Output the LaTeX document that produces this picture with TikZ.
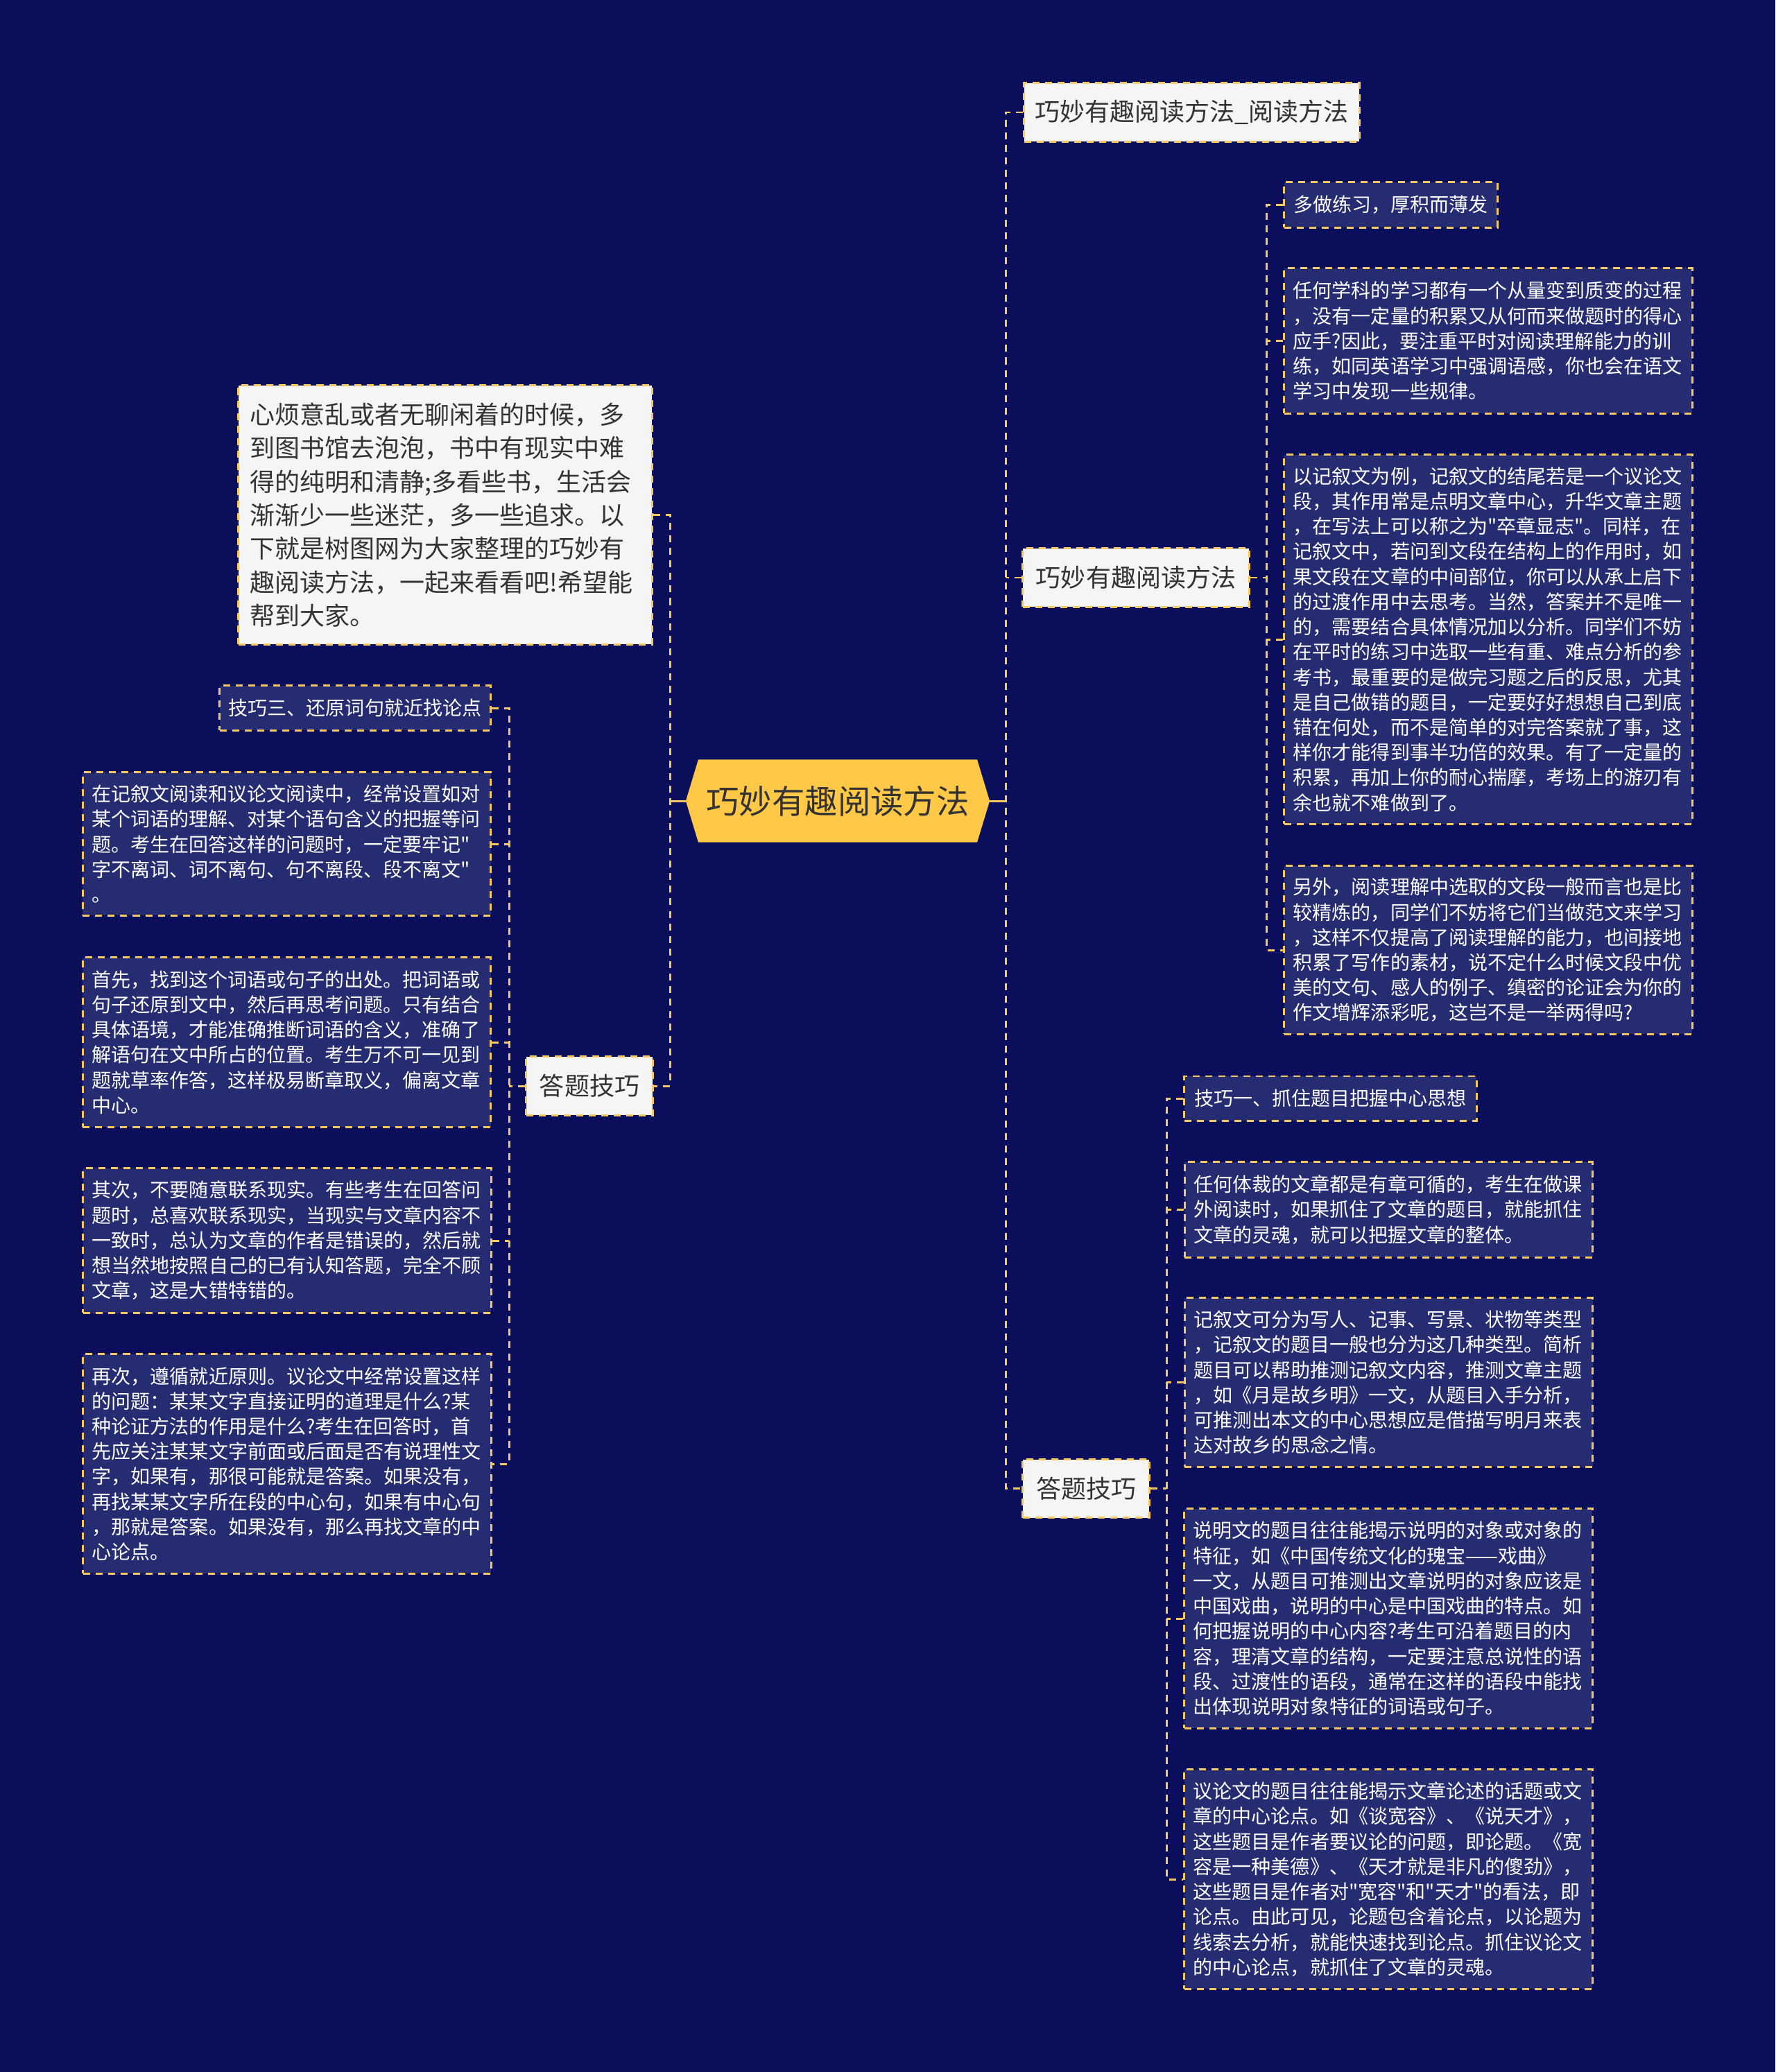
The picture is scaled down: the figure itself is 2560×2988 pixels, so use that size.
\documentclass[tikz,border=0pt]{standalone}
\usepackage{fontspec}
\setmainfont{Noto Sans CJK SC}[Ligatures=TeXOff]
\usetikzlibrary{backgrounds}
\definecolor{bgnavy}{HTML}{0A0E5B}
\definecolor{leafblue}{HTML}{262C72}
\definecolor{edgegold}{HTML}{F6C862}
\definecolor{rootgold}{HTML}{FFC846}
\definecolor{paper}{HTML}{F5F5F5}
\definecolor{ink}{HTML}{333333}
\newcommand\smallcn{\fontsize{7.97pt}{10.3pt}\selectfont}
\newcommand\bigcn{\fontsize{10.24pt}{13.74pt}\selectfont}
\newcommand\rootcn{\fontsize{13.5pt}{16pt}\selectfont}
\begin{document}
\begin{tikzpicture}[x=.01cm,y=-.01cm,line width=.85pt,
  dashline/.style={dash pattern=on 2.85pt off 2.28pt},
  link/.style={dashline,draw=edgegold},
  rootlink/.style={draw=edgegold},
  leaf/.style={dashline,draw=edgegold,fill=leafblue,text=white,font=\smallcn,align=left,inner ysep=0pt},
  para/.style={leaf,text width=5.62cm,inner xsep=.13cm},
  topic/.style={dashline,draw=edgegold,fill=paper,text=ink,font=\bigcn,inner ysep=0pt,minimum height=.84cm},
  rootbox/.style={text=ink,font=\rootcn,minimum width=4.35cm,minimum height=1.16cm}]
\useasboundingbox (0,0) rectangle (2560,2988);
\coordinate (lbus) at (966,0); \coordinate (rbus) at (1450,0);
\coordinate (abus) at (1826,0); \coordinate (lsbus) at (734,0); \coordinate (rsbus) at (1682,0);

\node[rootbox] (root) at (1208,1155) {巧妙有趣阅读方法};
\node[topic,minimum width=5.96cm,minimum height=3.73cm,text width=5.62cm,inner xsep=.17cm,align=left] (intro) at (642,742.5) {心烦意乱或者无聊闲着的时候，多\\到图书馆去泡泡，书中有现实中难\\得的纯明和清静;多看些书，生活会\\渐渐少一些迷茫，多一些追求。以\\下就是树图网为大家整理的巧妙有\\趣阅读方法，一起来看看吧!希望能\\帮到大家。};
\node[topic,minimum width=1.82cm] (ldt) at (850,1566) {答题技巧};
\node[topic,minimum width=4.83cm] (top) at (1718.5,162) {巧妙有趣阅读方法\_阅读方法};
\node[topic,minimum width=3.26cm] (mid) at (1638,833) {巧妙有趣阅读方法};
\node[topic,minimum width=1.82cm] (rdt) at (1566,2146.5) {答题技巧};

\node[leaf,minimum width=3.07cm,minimum height=.65cm] (a1) at (2005.5,295.5) {多做练习，厚积而薄发};
\node[para,minimum height=2.09cm] (a2) at (2146,491.5) {任何学科的学习都有一个从量变到质变的过程\\，没有一定量的积累又从何而来做题时的得心\\应手?因此，要注重平时对阅读理解能力的训\\练，如同英语学习中强调语感，你也会在语文\\学习中发现一些规律。};
\node[para,minimum height=5.32cm] (a3) at (2146,922) {以记叙文为例，记叙文的结尾若是一个议论文\\段，其作用常是点明文章中心，升华文章主题\\，在写法上可以称之为"卒章显志"。同样，在\\记叙文中，若问到文段在结构上的作用时，如\\果文段在文章的中间部位，你可以从承上启下\\的过渡作用中去思考。当然，答案并不是唯一\\的，需要结合具体情况加以分析。同学们不妨\\在平时的练习中选取一些有重、难点分析的参\\考书，最重要的是做完习题之后的反思，尤其\\是自己做错的题目，一定要好好想想自己到底\\错在何处，而不是简单的对完答案就了事，这\\样你才能得到事半功倍的效果。有了一定量的\\积累，再加上你的耐心揣摩，考场上的游刃有\\余也就不难做到了。};
\node[para,minimum height=2.42cm] (a4) at (2146,1370) {另外，阅读理解中选取的文段一般而言也是比\\较精炼的，同学们不妨将它们当做范文来学习\\，这样不仅提高了阅读理解的能力，也间接地\\积累了写作的素材，说不定什么时候文段中优\\美的文句、感人的例子、缜密的论证会为你的\\作文增辉添彩呢，这岂不是一举两得吗?};

\node[leaf,minimum width=3.9cm,minimum height=.64cm] (lb1) at (512,1021) {技巧三、还原词句就近找论点};
\node[para,minimum height=2.06cm] (lb2) at (413.5,1217) {在记叙文阅读和议论文阅读中，经常设置如对\\某个词语的理解、对某个语句含义的把握等问\\题。考生在回答这样的问题时，一定要牢记"\\字不离词、词不离句、句不离段、段不离文"\\。};
\node[para,minimum height=2.44cm] (lb3) at (413.5,1503) {首先，找到这个词语或句子的出处。把词语或\\句子还原到文中，然后再思考问题。只有结合\\具体语境，才能准确推断词语的含义，准确了\\解语句在文中所占的位置。考生万不可一见到\\题就草率作答，这样极易断章取义，偏离文章\\中心。};
\node[para,minimum height=2.08cm] (lb4) at (414,1789) {其次，不要随意联系现实。有些考生在回答问\\题时，总喜欢联系现实，当现实与文章内容不\\一致时，总认为文章的作者是错误的，然后就\\想当然地按照自己的已有认知答题，完全不顾\\文章，这是大错特错的。};
\node[para,minimum height=3.16cm] (lb5) at (414,2111) {再次，遵循就近原则。议论文中经常设置这样\\的问题：某某文字直接证明的道理是什么?某\\种论证方法的作用是什么?考生在回答时，首\\先应关注某某文字前面或后面是否有说理性文\\字，如果有，那很可能就是答案。如果没有，\\再找某某文字所在段的中心句，如果有中心句\\，那就是答案。如果没有，那么再找文章的中\\心论点。};

\node[leaf,minimum width=4.21cm,minimum height=.64cm] (rb1) at (1918.5,1584) {技巧一、抓住题目把握中心思想};
\node[para,minimum height=1.37cm] (rb2) at (2002.5,1744.5) {任何体裁的文章都是有章可循的，考生在做课\\外阅读时，如果抓住了文章的题目，就能抓住\\文章的灵魂，就可以把握文章的整体。};
\node[para,minimum height=2.43cm] (rb3) at (2002.5,1993.5) {记叙文可分为写人、记事、写景、状物等类型\\，记叙文的题目一般也分为这几种类型。简析\\题目可以帮助推测记叙文内容，推测文章主题\\，如《月是故乡明》一文，从题目入手分析，\\可推测出本文的中心思想应是借描写明月来表\\达对故乡的思念之情。};
\node[para,minimum height=3.16cm] (rb4) at (2002,2334) {说明文的题目往往能揭示说明的对象或对象的\\特征，如《中国传统文化的瑰宝——戏曲》\\一文，从题目可推测出文章说明的对象应该是\\中国戏曲，说明的中心是中国戏曲的特点。如\\何把握说明的中心内容?考生可沿着题目的内\\容，理清文章的结构，一定要注意总说性的语\\段、过渡性的语段，通常在这样的语段中能找\\出体现说明对象特征的词语或句子。};
\node[para,minimum height=3.16cm] (rb5) at (2002,2710) {议论文的题目往往能揭示文章论述的话题或文\\章的中心论点。如《谈宽容》、《说天才》，\\这些题目是作者要议论的问题，即论题。《宽\\容是一种美德》、《天才就是非凡的傻劲》，\\这些题目是作者对"宽容"和"天才"的看法，即\\论点。由此可见，论题包含着论点，以论题为\\线索去分析，就能快速找到论点。抓住议论文\\的中心论点，就抓住了文章的灵魂。};

\begin{scope}[on background layer]
\fill[bgnavy] (0,0) rectangle (2560,2988);
\fill[rootgold] (root.west) -- ([xshift=.18cm]root.north west) -- ([xshift=-.18cm]root.north east) -- (root.east) -- ([xshift=-.18cm]root.south east) -- ([xshift=.18cm]root.south west) -- cycle;
\end{scope}

\draw[rootlink] (root.west) -- (root.west -| lbus);
\draw[rootlink] (root.east) -- (root.east -| rbus);
\draw[link] (intro.east) -| (lbus |- ldt.east) -- (ldt.east);
\draw[link] (top.west) -| (rbus |- rdt.west) -- (rdt.west);
\draw[link] (mid.west) -- (mid.west -| rbus);
\draw[link] (mid.east) -- (mid.east -| abus);
\draw[link] (a1.west) -| (abus |- a4.west) -- (a4.west);
\foreach \n in {a2,a3}{\draw[link] (\n.west) -- (\n.west -| abus);}
\draw[link] (ldt.west) -- (ldt.west -| lsbus);
\draw[link] (lb1.east) -| (lsbus |- lb5.east) -- (lb5.east);
\foreach \n in {lb2,lb3,lb4}{\draw[link] (\n.east) -- (\n.east -| lsbus);}
\draw[link] (rdt.east) -- (rdt.east -| rsbus);
\draw[link] (rb1.west) -| (rsbus |- rb5.west) -- (rb5.west);
\foreach \n in {rb2,rb3,rb4}{\draw[link] (\n.west) -- (\n.west -| rsbus);}
\end{tikzpicture}
\end{document}
